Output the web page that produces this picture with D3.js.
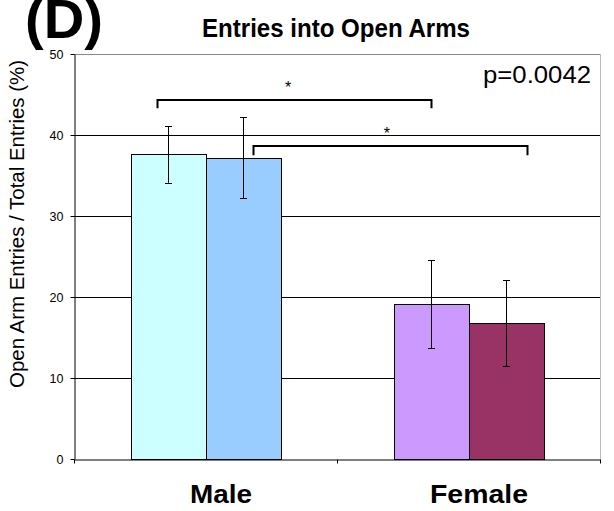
<!DOCTYPE html>
<html>
<head>
<meta charset="utf-8">
<script src="https://cdn.jsdelivr.net/npm/d3@7/dist/d3.min.js"></script>
<style>
  html, body { margin: 0; padding: 0; background: #fff; }
  svg { display: block; font-family: "Liberation Sans", Arial, sans-serif; }
</style>
</head>
<body>
<svg id="chart" width="614" height="511"></svg>
<script>
// ---- data ----
const categories = ["Male", "Female"];
const subgroups = ["first", "second"];
const maleMeans = [37.6, 37.2];
const femaleMeans = [19.1, 16.75];
const maleErrors = [3.5, 5.0];
const femaleErrors = [5.45, 5.3];
const yTickValues = [0, 10, 20, 30, 40, 50];
// significance brackets, x in category units (0..2), y in data units
const bracketStartX = [0.316, 0.681];
const bracketEndX = [1.357, 1.722];
const bracketY = [44.3, 38.6];
const bracketDrop = [1.0, 1.1];
const bracketLabels = ["*", "*"];
const starX = [0.814, 1.19];
const pValueText = "p=0.0042";
const titleText = "Entries into Open Arms";
const panelText = "(D)";
const yAxisTitle = "Open Arm Entries / Total Entries (%)";

// ---- styles ----
const barColors = [["#CCFFFF", "#99CCFF"], ["#CC99FF", "#993366"]];

(function () {
const means = [maleMeans, femaleMeans];
const errors = [maleErrors, femaleErrors];

const svg = d3.select("#chart");
const pL = 74, pR = 600, pT = 54, pB = 459;

const y = d3.scaleLinear().domain([0, 50]).range([pB, pT]);
const xCat = d3.scaleBand().domain(categories).range([pL, pR]).padding(0);
const xUnits = d3.scaleLinear().domain([0, 2]).range([pL, pR]);
const groupW = xCat.bandwidth();
const barsW = 150;
const xSub = d3.scaleBand().domain(subgroups)
  .range([(groupW - barsW) / 2, (groupW + barsW) / 2]).padding(0);

// gridlines
svg.append("g").selectAll("line").data([10, 20, 30, 40]).join("line")
  .attr("x1", pL).attr("x2", pR)
  .attr("y1", d => Math.round(y(d)) + 0.5).attr("y2", d => Math.round(y(d)) + 0.5)
  .attr("stroke", "#000").attr("stroke-width", 1);

// plot frame (top / right)
svg.append("line").attr("x1", pL).attr("x2", pR)
  .attr("y1", Math.round(y(50)) + 0.5).attr("y2", Math.round(y(50)) + 0.5)
  .attr("stroke", "#888");
svg.append("line").attr("x1", pR + 0.5).attr("x2", pR + 0.5)
  .attr("y1", y(50)).attr("y2", y(0))
  .attr("stroke", "#bbb");

// flatten
const flat = [];
categories.forEach((c, ci) => subgroups.forEach((s, si) => {
  flat.push({c, s, ci, si, v: means[ci][si], e: errors[ci][si], color: barColors[ci][si]});
}));

// bars
svg.append("g").selectAll("rect").data(flat).join("rect")
  .attr("x", d => Math.round(xCat(d.c) + xSub(d.s)) + 0.5)
  .attr("y", d => Math.round(y(d.v)) + 0.5)
  .attr("width", xSub.bandwidth())
  .attr("height", d => Math.round(y(0)) - Math.round(y(d.v)))
  .attr("fill", d => d.color)
  .attr("stroke", "#000").attr("stroke-width", 1);

// error bars
const eg = svg.append("g").attr("stroke", "#000").attr("stroke-width", 1);
flat.forEach(d => {
  const cx = Math.round(xCat(d.c) + xSub(d.s) + xSub.bandwidth() / 2) + 0.5;
  const y1 = y(d.v + d.e), y2 = y(d.v - d.e);
  eg.append("line").attr("x1", cx).attr("x2", cx).attr("y1", y1).attr("y2", y2);
  eg.append("line").attr("x1", cx - 3.5).attr("x2", cx + 3.5)
    .attr("y1", Math.round(y1) + 0.5).attr("y2", Math.round(y1) + 0.5);
  eg.append("line").attr("x1", cx - 3.5).attr("x2", cx + 3.5)
    .attr("y1", Math.round(y2) + 0.5).attr("y2", Math.round(y2) + 0.5);
});

// y axis
const yAxis = d3.axisLeft(y).tickValues(yTickValues).tickSize(4).tickPadding(7).tickSizeOuter(0);
const ya = svg.append("g").attr("transform", `translate(${pL + 0.5},0)`).call(yAxis);
ya.select(".domain").attr("stroke", "#000");
ya.selectAll(".tick line").attr("stroke", "#000");
ya.selectAll(".tick text").attr("font-size", "12.5px").attr("fill", "#000")
  .attr("font-family", "Liberation Sans, Arial, sans-serif");

// x axis (ticks at category boundaries)
const xAxis = d3.axisBottom(xUnits).tickValues([0, 1, 2]).tickSize(4).tickFormat("").tickSizeOuter(0);
const xa = svg.append("g").attr("transform", `translate(0,${Math.round(pB) + 0.5})`).call(xAxis);
xa.select(".domain").attr("stroke", "#000");
xa.selectAll(".tick line").attr("stroke", "#000");

// category labels
const catLabelOffset = [15.5, 10.5];
const catLabelW = [62, 98];
svg.append("g").selectAll("text").data(categories).join("text")
  .attr("x", (d, i) => xCat(d) + groupW / 2 + catLabelOffset[i])
  .attr("y", 503)
  .attr("text-anchor", "middle")
  .attr("font-size", "25px").attr("font-weight", "bold")
  .attr("textLength", (d, i) => catLabelW[i]).attr("lengthAdjust", "spacingAndGlyphs")
  .text(d => d);

// brackets
bracketStartX.forEach((bx, i) => {
  const x1 = Math.round(xUnits(bx)) + 0.5, x2 = Math.round(xUnits(bracketEndX[i])) + 0.5;
  const yy = Math.round(y(bracketY[i])), yd = y(bracketY[i] - bracketDrop[i]);
  svg.append("path")
    .attr("d", `M${x1},${yd}V${yy}H${x2}V${yd}`)
    .attr("fill", "none").attr("stroke", "#000").attr("stroke-width", 2);
  svg.append("text")
    .attr("x", xUnits(starX[i])).attr("y", yy - 7)
    .attr("text-anchor", "middle").attr("font-size", "16px")
    .text(bracketLabels[i]);
});

// p-value
svg.append("text").attr("x", 591).attr("y", 83).attr("text-anchor", "end")
  .attr("font-size", "23px").attr("textLength", 108).attr("lengthAdjust", "spacingAndGlyphs")
  .text(pValueText);

// title
svg.append("text").attr("x", 336).attr("y", 37).attr("text-anchor", "middle")
  .attr("font-size", "25.5px").attr("font-weight", "bold")
  .attr("textLength", 268).attr("lengthAdjust", "spacingAndGlyphs")
  .text(titleText);

// panel label
svg.append("text").attr("x", 25).attr("y", 38)
  .attr("font-size", "56px").attr("font-weight", "bold")
  .attr("textLength", 78).attr("lengthAdjust", "spacingAndGlyphs")
  .text(panelText);

// y axis title
svg.append("text")
  .attr("transform", "translate(24,224) rotate(-90)")
  .attr("text-anchor", "middle")
  .attr("font-size", "19.5px")
  .attr("textLength", 328).attr("lengthAdjust", "spacingAndGlyphs")
  .text(yAxisTitle);
})();
</script>
</body>
</html>
